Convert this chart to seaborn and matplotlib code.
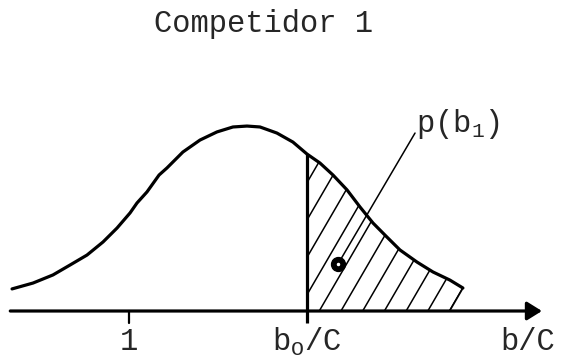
# Distribution of competitor bids with the hatched tail above b0/C.

import numpy as np
import pandas as pd
import seaborn as sns
import matplotlib
import matplotlib.pyplot as plt
from matplotlib.patches import Polygon

matplotlib.use('Agg')

# curve (x in b/C units, 1 and b0/C marked on the axis)
bc = [0.343, 0.461, 0.573, 0.669, 0.764, 0.854, 0.933, 1.006, 1.045, 1.101,
      1.169, 1.213, 1.303, 1.399, 1.494, 1.584, 1.663, 1.736, 1.831, 1.921,
      2.0, 2.073, 2.146, 2.225, 2.298, 2.371, 2.449, 2.522, 2.618, 2.708,
      2.803, 2.876]
dens = [0.120, 0.152, 0.196, 0.250, 0.304, 0.375, 0.451, 0.533, 0.587, 0.647,
        0.739, 0.777, 0.864, 0.929, 0.973, 1.000, 1.005, 1.000, 0.967, 0.918,
        0.853, 0.804, 0.739, 0.658, 0.565, 0.478, 0.402, 0.332, 0.266, 0.212,
        0.168, 0.125]
tick_pos = [1.0, 2.0]
tick_labels = ["1", "$\\mathrm{b_O/C}$"]
b0 = 2.0
title = "Competidor 1"
xlabel = "b/C"
area_label = "$\\mathrm{p(b_1)}$"

sns.set_style("white")
plt.rcParams['font.family'] = ['Liberation Mono', 'DejaVu Sans']
plt.rcParams['mathtext.fontset'] = 'custom'
plt.rcParams['mathtext.rm'] = 'Liberation Mono'
plt.rcParams['mathtext.it'] = 'Liberation Mono'

df = pd.DataFrame({"bc": bc, "dens": dens})

fig, ax = plt.subplots(figsize=(5.77, 3.61), dpi=100)
ax.set_position([0, 0, 1, 1])
ax.set_xlim(0.2753, 3.517)
ax.set_ylim(-0.2717, 1.690)
ax.axis('off')

sns.lineplot(data=df, x="bc", y="dens", sort=False, color="black", lw=2.3, ax=ax)

# x axis with arrow
x0, x1 = bc[0] - 0.01, 3.32
ax.annotate("", xy=(x1, 0), xytext=(x0, 0),
            arrowprops=dict(arrowstyle="-|>,head_length=0.45,head_width=0.28",
                            mutation_scale=20, lw=2.3, color="black",
                            shrinkA=0, shrinkB=0))

# ticks and the b0/C line
ax.plot([1.0, 1.0], [0, -0.065], color="black", lw=1.6)
top = np.interp(b0, bc, dens)
ax.plot([b0, b0], [-0.065, top], color="black", lw=2.3, solid_capstyle="butt")
for p, lab in zip(tick_pos, tick_labels):
    ax.text(p, -0.17, lab, ha="center", va="center", fontsize=22)
ax.text(3.24, -0.17, xlabel, ha="center", va="center", fontsize=22)

# hatched tail
slope = 1.664
tail = df[df.bc >= b0]
end_x = tail.bc.iloc[-1] - tail.dens.iloc[-1] / slope
verts = [(b0, 0), (b0, top)] + list(zip(tail.bc, tail.dens)) + [(end_x, 0)]
poly = Polygon(verts, closed=True, facecolor="none", edgecolor="none")
ax.add_patch(poly)
ax.plot([tail.bc.iloc[-1], end_x], [tail.dens.iloc[-1], 0], color="black", lw=1.3)
step = 0.122
for s in np.arange(end_x, b0 - 1.2, -step):
    ln, = ax.plot([s, s + 1.2], [0, 1.2 * slope], color="black", lw=1.1)
    ln.set_clip_path(poly)

# label with leader line to the marked area
ax.plot([2.174, 2.607], [0.255, 0.967], color="black", lw=1.1)
ax.plot([2.174], [0.255], "o", color="black", ms=10)
ax.plot([2.174], [0.255], "o", color="white", ms=1.5)
ax.text(2.85, 1.015, area_label, ha="center", va="center", fontsize=22)

fig.text(264 / 577, 1 - 24 / 361, title, ha="center", va="center", fontsize=22)

plt.savefig("out.png", dpi=100)
